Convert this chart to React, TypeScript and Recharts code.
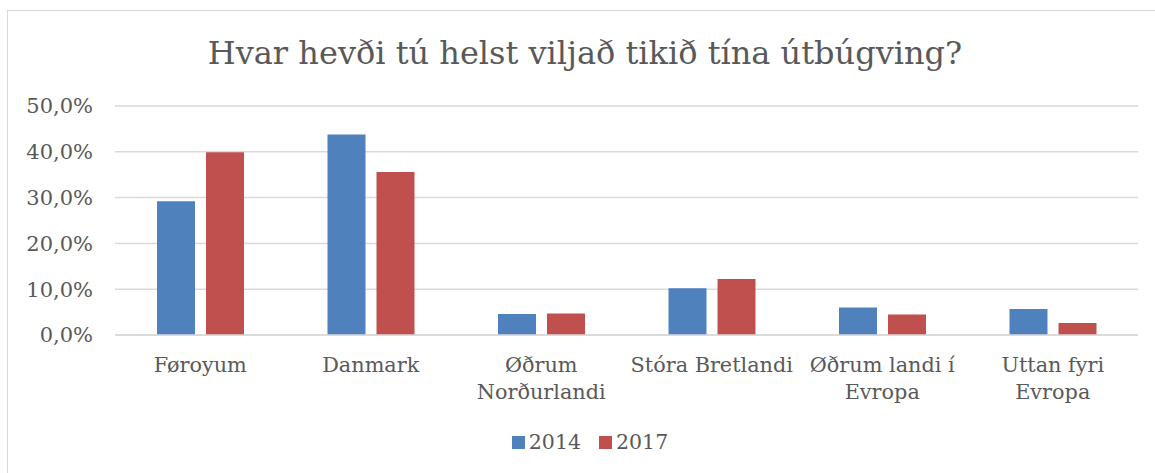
import React from "react";
import { BarChart, Bar, XAxis, YAxis, CartesianGrid, Legend } from "recharts";

const categories = [
  "Føroyum",
  "Danmark",
  "Øðrum Norðurlandi",
  "Stóra Bretlandi",
  "Øðrum landi í Evropa",
  "Uttan fyri Evropa",
];
const tickLabelLines = [
  ["Føroyum"],
  ["Danmark"],
  ["Øðrum", "Norðurlandi"],
  ["Stóra Bretlandi"],
  ["Øðrum landi í", "Evropa"],
  ["Uttan fyri", "Evropa"],
];
const values2014 = [29.2, 43.8, 4.6, 10.2, 6.0, 5.7];
const values2017 = [39.9, 35.6, 4.7, 12.2, 4.5, 2.6];
const yTicks = [0, 10, 20, 30, 40, 50];
const title = "Hvar hevði tú helst viljað tikið tína útbúgving?";

const data = categories.map((c, i) => ({
  name: c,
  y2014: values2014[i],
  y2017: values2017[i],
}));

const FONT = "Georgia, 'DejaVu Serif', serif";
const TEXT = "#595959";
const GRID = "#d9d9d9";
const BLUE = "#4f81bd";
const RED = "#c0504d";

const fmt = (v: number) => `${v.toFixed(1).replace(".", ",")}%`;

const XTick = (props: any) => {
  const { x, y, payload } = props;
  const lines = tickLabelLines[payload.index] || [String(payload.value)];
  return (
    <g>
      {lines.map((l: string, i: number) => (
        <text
          key={i}
          x={x}
          y={y + 37 + i * 27}
          textAnchor="middle"
          fill={TEXT}
          fontFamily={FONT}
          fontSize={20.8}
        >
          {l}
        </text>
      ))}
    </g>
  );
};

const LegendContent = (props: any) => {
  const { payload } = props;
  return (
    <div
      style={{
        display: "flex",
        justifyContent: "center",
        alignItems: "center",
        fontFamily: FONT,
        fontSize: 20.5,
        color: TEXT,
        gap: 18,
      }}
    >
      {(payload || []).map((p: any, i: number) => (
        <div key={i} style={{ display: "flex", alignItems: "center" }}>
          <span
            style={{
              display: "inline-block",
              width: 13,
              height: 13,
              background: p.color,
              marginRight: 4,
            }}
          />
          <span>{p.value}</span>
        </div>
      ))}
    </div>
  );
};

export default function App() {
  return (
    <div>
      <div
        style={{
          position: "absolute",
          left: 7,
          top: 10,
          width: 1170,
          height: 480,
          border: `1px solid ${GRID}`,
          boxSizing: "border-box",
        }}
      />
      <div
        style={{
          position: "absolute",
          left: 0,
          width: 1170,
          top: 33,
          textAlign: "center",
          fontFamily: FONT,
          fontSize: 32,
          color: TEXT,
          lineHeight: "40px",
          whiteSpace: "nowrap",
        }}
      >
        {title}
      </div>
      <div style={{ position: "absolute", left: 0, top: 0 }}>
        <BarChart
          width={1155}
          height={473}
          data={data}
          margin={{ top: 106, left: 0, right: 17, bottom: 0 }}
          barSize={38}
          barGap={11}
        >
          <CartesianGrid vertical={false} stroke={GRID} strokeWidth={1.5} />
          <XAxis
            dataKey="name"
            tick={<XTick />}
            tickLine={false}
            axisLine={{ stroke: GRID, strokeWidth: 1.5 }}
            tickSize={0}
            tickMargin={0}
            interval={0}
            height={138}
          />
          <YAxis
            width={115}
            domain={[0, 50]}
            ticks={yTicks}
            tickFormatter={fmt}
            axisLine={false}
            tickLine={false}
            tickSize={0}
            tickMargin={22}
            tick={{ fill: TEXT, fontFamily: FONT, fontSize: 21 }}
          />
          <Bar dataKey="y2014" name="2014" fill={BLUE} isAnimationActive={false} />
          <Bar dataKey="y2017" name="2017" fill={RED} isAnimationActive={false} />
          <Legend
            layout="horizontal"
            verticalAlign="middle"
            align="center"
            content={<LegendContent />}
            wrapperStyle={{ left: 0, top: 430, width: 1180, height: 24 }}
          />
        </BarChart>
      </div>
    </div>
  );
}
